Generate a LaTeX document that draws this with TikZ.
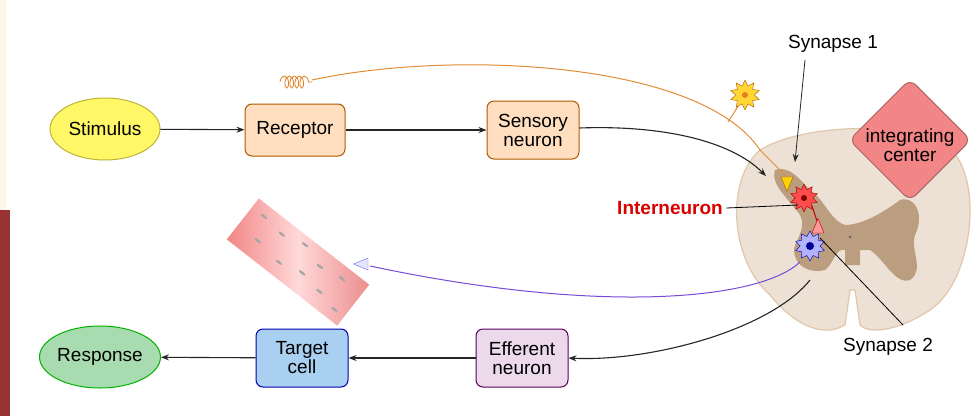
\documentclass[tikz,border=0pt]{standalone}
\usepackage{fontspec}
\setmainfont{Liberation Sans}
\usetikzlibrary{shapes.geometric,arrows.meta,decorations.pathmorphing,shapes.misc}
\definecolor{tblue}{HTML}{A9D0F0}
\definecolor{rgreen}{HTML}{A8DCB0}
\begin{document}
\begin{tikzpicture}[x=1pt,y=-1pt,
  box/.style={draw=#1!70!black,line width=1pt,rounded corners=7pt,minimum width=92pt,minimum height=58pt,align=center,font=\fontsize{19}{19}\selectfont,inner sep=1pt},
  ell/.style={ellipse,draw=#1!70!black,line width=1pt,minimum width=110pt,minimum height=62pt,font=\fontsize{19}{19}\selectfont,inner sep=0pt},
  arr/.style={-{Stealth[length=8pt,width=6pt]},line width=1.1pt,black!85},
  lbl/.style={font=\fontsize{19}{19}\selectfont}]
\useasboundingbox (0,0) rectangle (972,416);
\fill[white] (0,0) rectangle (972,416);
\fill[orange!8] (0,0) rectangle (6,210);
\fill[red!50!black!80] (0,210) rectangle (10,416);
% nodes
\node[ell=yellow,fill=yellow!60] (stim) at (105,129) {Stimulus};
\node[box=orange,fill=orange!25,minimum width=100pt,minimum height=52pt] (rec) at (295,130) {Receptor};
\node[box=orange,fill=orange!25] (sens) at (533,130) {Sensory\\neuron};
\node[ell=green,fill=rgreen] (resp) at (100,357) {Response};
\node[box=blue,fill=tblue] (targ) at (302,358) {Target\\cell};
\node[box=violet,fill=violet!15] (eff) at (522,358) {Efferent\\neuron};
% coil
\draw[orange!50!brown,line width=0.8pt,decorate,decoration={coil,aspect=0.5,segment length=5pt,amplitude=6pt}] (280,82) -- (312,82);
% spinal cord
\fill[orange!10!white!93!black,draw=brown!45,line width=1.2pt] (760,150) .. controls (800,125) and (900,120) .. (945,145) .. controls (985,170) and (975,280) .. (930,310) .. controls (900,330) and (870,335) .. (860,325) -- (855,290) -- (850,290) -- (845,325) .. controls (820,340) and (790,320) .. (770,295) .. controls (730,260) and (725,180) .. (760,150) -- cycle;
\fill[brown!55!white!85!black] (775,170) .. controls (790,165) and (800,180) .. (810,190) .. controls (825,200) and (830,220) .. (845,225) .. controls (860,225) and (880,215) .. (900,200) .. controls (915,195) and (925,215) .. (915,235) .. controls (910,250) and (925,270) .. (910,280) .. controls (895,285) and (885,260) .. (870,250) -- (860,250) -- (860,265) -- (845,265) -- (845,250) .. controls (835,248) and (835,262) .. (825,270) .. controls (805,275) and (790,260) .. (795,245) .. controls (800,235) and (805,225) .. (800,215) .. controls (790,200) and (770,185) .. (775,170) -- cycle;
\fill[black!60] (850,237) circle (1.5pt);
% golden fiber
\draw[orange!50!brown!90,line width=1pt] (312,80) .. controls (450,50) and (700,60) .. (760,150) -- (786,176);
\draw[orange!50!brown!90,line width=1pt] (728,122) -- (742,100);
\node[star,star points=10,star point ratio=1.6,fill=orange!40!yellow!80,draw=orange!70!black,minimum size=30pt,inner sep=0pt] (gs) at (745,95) {};
\fill[orange!60!brown] (745,95) circle (3pt);
\node[isosceles triangle,shape border rotate=-90,fill=yellow!70!orange,draw=orange!70!black,minimum width=12pt,minimum height=10pt,inner sep=0pt] (t1) at (787,181) {};
% red interneuron
\node[star,star points=10,star point ratio=1.6,fill=red!70,draw=red!60!black,minimum size=28pt,inner sep=0pt] (rn) at (804,198) {};
\fill[red!50!black] (804,198) circle (3pt);
\draw[red!80!black,line width=1pt] (812,206) -- (818,224);
\node[isosceles triangle,shape border rotate=90,fill=red!40,draw=red!70!black,minimum width=12pt,minimum height=9pt,inner sep=0pt] (t2) at (818,229) {};
% blue neuron
\node[star,star points=10,star point ratio=1.5,fill=blue!30,draw=blue!60!black,minimum size=30pt,inner sep=0pt] (bn) at (810,246) {};
\fill[blue!60!black] (810,246) circle (4pt);
% muscle
\begin{scope}[shift={(298,262)},rotate=-38]
\shade[left color=red!30!pink!90!gray,right color=red!25!pink!85!gray,middle color=pink!60] (-70,-26) rectangle (70,26);
\foreach \p in {(-55,-15),(-30,-12),(-5,-18),(20,-10),(45,-14),(-45,8),(-15,12),(10,6),(35,10),(58,15)}
  \fill[gray!70] \p ellipse (4pt and 1.3pt);
\end{scope}
% blue fiber
\draw[blue!55!violet!70,line width=1pt] (800,262) .. controls (760,300) and (600,315) .. (370,266);
\node[isosceles triangle,shape border rotate=180,fill=blue!10,draw=blue!60,minimum width=12pt,minimum height=10pt,inner sep=0pt] (t3) at (364,264) {};
% arrows
\draw[arr] (stim) -- (rec);
\draw[arr] (rec) -- (sens);
\coordinate (cin) at (766,176);
\draw[arr] (sens.east) ++(0,-2) .. controls (660,125) and (730,140) .. (cin);
\coordinate (cout) at (810,280);
\draw[arr] (cout) .. controls (770,330) and (650,362) .. (eff.east);
\draw[arr] (eff) -- (targ);
\draw[arr] (targ) -- (resp);
% diamond
\node[diamond,fill=red!30!pink!90!gray,draw=red!45!black!60,line width=1pt,rounded corners=8pt,minimum width=122pt,minimum height=122pt,inner sep=0pt] (ic) at (910,140) {};
\node[lbl,align=center] (ict) at (910,145) {integrating\\center};
% labels
\node[lbl] (s1) at (833,44) {Synapse 1};
\coordinate (s1e) at (795,162);
\draw[arr,line width=0.8pt] (805,60) -- (s1e);
\node[lbl,text=red!85!black,font=\bfseries\fontsize{19}{19}\selectfont] (inter) at (670,208) {Interneuron};
\coordinate (ie) at (798,205);
\draw[line width=0.8pt] (inter.east) -- (ie);
\node[lbl] (s2) at (888,347) {Synapse 2};
\coordinate (s2e) at (820,238);
\draw[line width=0.8pt] (903,325) -- (s2e);
\end{tikzpicture}
\end{document}
